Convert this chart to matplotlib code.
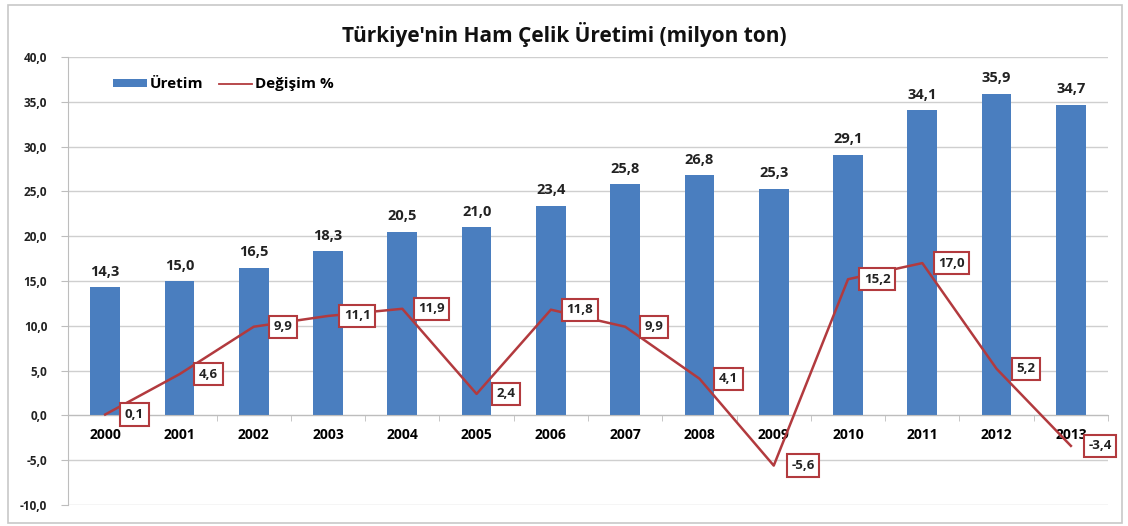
import numpy as np
import matplotlib.pyplot as plt
from matplotlib.patches import Rectangle

years = ['2000', '2001', '2002', '2003', '2004', '2005', '2006',
         '2007', '2008', '2009', '2010', '2011', '2012', '2013']
uretim = [14.3, 15.0, 16.5, 18.3, 20.5, 21.0, 23.4,
          25.8, 26.8, 25.3, 29.1, 34.1, 35.9, 34.7]
degisim = [0.1, 4.6, 9.9, 11.1, 11.9, 2.4, 11.8,
           9.9, 4.1, -5.6, 15.2, 17.0, 5.2, -3.4]

def tr(v):
    return f'{v:.1f}'.replace('.', ',')

plt.rcParams['font.family'] = ['Open Sans', 'DejaVu Sans']
plt.rcParams['font.weight'] = 'bold'

fig = plt.figure(figsize=(11.28, 5.26), dpi=100)
ax = fig.add_axes([0.0603, 0.0399, 0.9220, 0.8517])

# outer chart frame
fig.patches.append(Rectangle((0.007, 0.006), 0.988, 0.984, transform=fig.transFigure,
                             fill=False, edgecolor='#c8c8c8', linewidth=1.2))

x = np.arange(len(years))
bar_color = '#4a7ebf'
line_color = '#b23a3e'

bars = ax.bar(x, uretim, width=0.4, color=bar_color, label='Üretim', zorder=2)
line, = ax.plot(x, degisim, color=line_color, linewidth=1.8, label='Değişim %', zorder=3)

for xi, v in zip(x, uretim):
    ax.annotate(tr(v), (xi, v), xytext=(0, 6), textcoords='offset points',
                ha='center', va='bottom', fontsize=10.5, fontweight='bold', color='#222222')

for xi, v in zip(x, degisim):
    ax.annotate(tr(v), (xi, v), xytext=(21, 0), textcoords='offset points',
                ha='center', va='center', fontsize=9.5, fontweight='bold', color='#222222',
                bbox=dict(boxstyle='square,pad=0.35', facecolor='white',
                          edgecolor=line_color, linewidth=1.5), zorder=4)

ax.set_xlim(-0.5, len(years) - 0.5)
ax.set_ylim(-10, 40)
yt = np.arange(-10, 41, 5)
ax.set_yticks(yt)
ax.set_yticklabels([tr(v) for v in yt], fontsize=8.5, fontweight='bold', color='#222222')
ax.yaxis.grid(True, color='#cfcfcf', linewidth=1.0, zorder=0)
ax.set_axisbelow(True)

ax.set_xticks(x)
ax.set_xticklabels(years, fontsize=8.5, fontweight='bold', color='#222222')
ax.set_xticks(np.arange(-0.5, len(years), 1), minor=True)
ax.tick_params(axis='x', which='major', length=0, pad=9)
ax.tick_params(axis='x', which='minor', length=4, color='#bdbdbd')
ax.tick_params(axis='y', length=5, color='#bdbdbd', pad=10)

ax.spines['bottom'].set_position(('data', 0))
ax.spines['bottom'].set_color('#bdbdbd')
ax.spines['left'].set_color('#bdbdbd')
ax.spines['top'].set_visible(False)
ax.spines['right'].set_visible(False)

leg = ax.legend(handles=[bars, line], loc='upper left', bbox_to_anchor=(0.03, 0.985),
                ncol=2, frameon=False, handlelength=2.2, handleheight=0.5,
                handletextpad=0.2, columnspacing=1.0, prop={'weight': 'bold', 'size': 11})
leg.get_lines()[0].set_linewidth(1.3)

fig.text(0.5, 0.935, "Türkiye'nin Ham Çelik Üretimi (milyon ton)",
         ha='center', va='center', fontsize=15, fontweight='bold', color='#111111')

fig.savefig('out.png', dpi=100)
